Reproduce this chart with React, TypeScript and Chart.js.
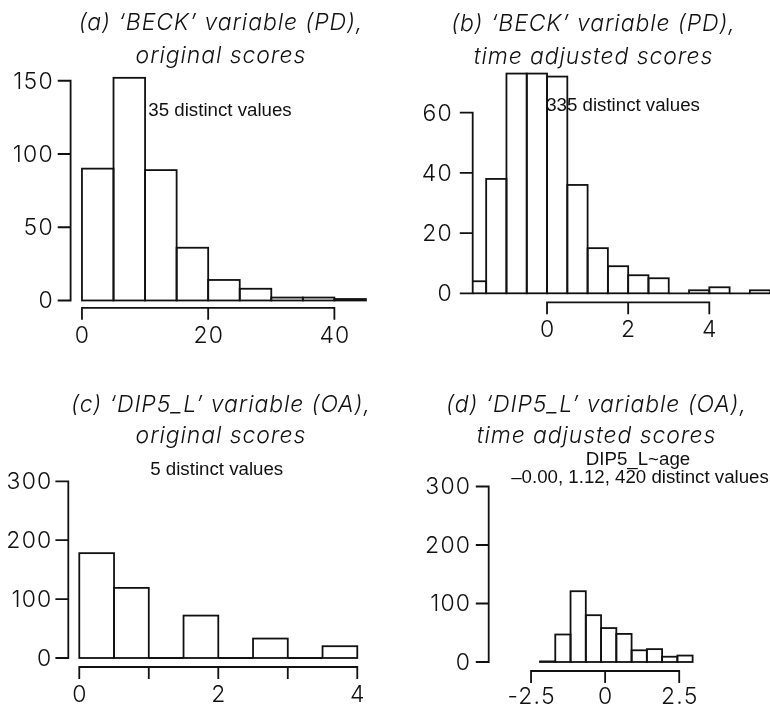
import React, { useEffect, useRef } from "react";
import { Chart, registerables } from "chart.js";

Chart.register(...registerables);

const W = 770;
const H = 708;

// ---------- (a) 'BECK' variable (PD), original scores ----------
const beckOrigBinCenters = [2.5, 7.5, 12.5, 17.5, 22.5, 27.5, 32.5, 37.5, 42.5];
const beckOrigCounts = [90, 152, 89, 36, 14, 8, 2, 2, 1];
const beckOrigXTicks = [0, 20, 40];
const beckOrigXLabels = ["0", "20", "40"];
const beckOrigYTicks = [0, 50, 100, 150];
const beckOrigYLabels = ["0", "50", "100", "150"];

// ---------- (b) 'BECK' variable (PD), time adjusted scores ----------
const beckAdjBinCenters = [-1.75, -1.25, -0.75, -0.25, 0.25, 0.75, 1.25, 1.75, 2.25, 2.75, 3.25, 3.75, 4.25, 4.75, 5.25];
const beckAdjCounts = [4, 38, 73, 73, 72, 36, 15, 9, 6, 5, 0, 1, 2, 0, 1];
const beckAdjXTicks = [0, 2, 4];
const beckAdjXLabels = ["0", "2", "4"];
const beckAdjYTicks = [0, 20, 40, 60];
const beckAdjYLabels = ["0", "20", "40", "60"];

// ---------- (c) 'DIP5_L' variable (OA), original scores ----------
const dipOrigBinCenters = [0.25, 0.75, 1.25, 1.75, 2.25, 2.75, 3.25, 3.75];
const dipOrigCounts = [178, 119, 0, 72, 0, 33, 0, 20];
const dipOrigXTicks = [0, 1, 2, 3, 4];
const dipOrigXLabels = ["0", "", "2", "", "4"];
const dipOrigYTicks = [0, 100, 200, 300];
const dipOrigYLabels = ["0", "100", "200", "300"];

// ---------- (d) 'DIP5_L' variable (OA), time adjusted scores ----------
const dipAdjBinCenters = [-1.94, -1.425, -0.91, -0.395, 0.12, 0.635, 1.15, 1.665, 2.18, 2.695];
const dipAdjCounts = [1, 47, 121, 80, 58, 48, 20, 22, 9, 11];
const dipAdjXTicks = [-2.5, 0, 2.5];
const dipAdjXLabels = ["-2.5", "0", "2.5"];
const dipAdjYTicks = [0, 100, 200, 300];
const dipAdjYLabels = ["0", "100", "200", "300"];

const TITLE_FONT = 'italic 300 23px Inter, Roboto, "Liberation Sans", sans-serif';
const TITLE_SPACING = 0.9;
const TICK_FONT = '300 23px Inter, Roboto, "Liberation Sans", sans-serif';
const TICK_SPACING = 1.2;
const NOTE_FONT = '18.7px "Liberation Sans", Arial, sans-serif';
const INK = "#111";
const LW = 1.8;
const TICK_LEN = 12;

type Panel = {
  centers: number[];
  counts: number[];
  xTicks: number[];
  xLabels: string[];
  yTicks: number[];
  yLabels: string[];
  area: { left: number; right: number; top: number; bottom: number };
  xMin: number;
  xMax: number;
  yMin: number;
  yMax: number;
  yLabelGap: number;
  xLabelOffset: number;
  title: string[];
  titleX: number;
  titleBaselines: number[];
  notes: { text: string; x: number; y: number }[];
};

const panels: Panel[] = [
  {
    centers: beckOrigBinCenters,
    counts: beckOrigCounts,
    xTicks: beckOrigXTicks,
    xLabels: beckOrigXLabels,
    yTicks: beckOrigYTicks,
    yLabels: beckOrigYLabels,
    area: { left: 70.6, right: 377.3, top: 66.1, bottom: 307.8 },
    xMin: -1.8,
    xMax: 46.8,
    yMin: -5,
    yMax: 160,
    yLabelGap: 18,
    xLabelOffset: 27,
    title: ["(a) \u2018BECK\u2019 variable (PD),", "original scores"],
    titleX: 220.5,
    titleBaselines: [30, 63],
    notes: [{ text: "35 distinct values", x: 220, y: 111 }],
  },
  {
    centers: beckAdjBinCenters,
    counts: beckAdjCounts,
    xTicks: beckAdjXTicks,
    xLabels: beckAdjXLabels,
    yTicks: beckAdjYTicks,
    yLabels: beckAdjYLabels,
    area: { left: 472.7, right: 770, top: 52.5, bottom: 302.3 },
    xMin: -1.832,
    xMax: 5.496,
    yMin: -2.99,
    yMax: 80,
    yLabelGap: 21,
    xLabelOffset: 27,
    title: ["(b) \u2018BECK\u2019 variable (PD),", "time adjusted scores"],
    titleX: 593,
    titleBaselines: [31, 64],
    notes: [{ text: "335 distinct values", x: 623, y: 105.5 }],
  },
  {
    centers: dipOrigBinCenters,
    counts: dipOrigCounts,
    xTicks: dipOrigXTicks,
    xLabels: dipOrigXLabels,
    yTicks: dipOrigYTicks,
    yLabels: dipOrigYLabels,
    area: { left: 68.3, right: 368.4, top: 469.5, bottom: 667 },
    xMin: -0.158,
    xMax: 4.16,
    yMin: -15.3,
    yMax: 320,
    yLabelGap: 17,
    xLabelOffset: 27,
    title: ["(c) \u2018DIP5_L\u2019 variable (OA),", "original scores"],
    titleX: 220.5,
    titleBaselines: [412, 443],
    notes: [{ text: "5 distinct values", x: 216.7, y: 470 }],
  },
  {
    centers: dipAdjBinCenters,
    counts: dipAdjCounts,
    xTicks: dipAdjXTicks,
    xLabels: dipAdjXLabels,
    yTicks: dipAdjYTicks,
    yLabels: dipAdjYLabels,
    area: { left: 488.7, right: 760, top: 474.8, bottom: 671 },
    xMin: -3.929,
    xMax: 5.226,
    yMin: -15.4,
    yMax: 320,
    yLabelGap: 18.7,
    xLabelOffset: 25,
    title: ["(d) \u2018DIP5_L\u2019 variable (OA),", "time adjusted scores"],
    titleX: 596,
    titleBaselines: [412, 443],
    notes: [
      { text: "DIP5_L~age", x: 638, y: 460 },
      { text: "\u20130.00, 1.12, 420 distinct values", x: 640, y: 478 },
    ],
  },
];

function makePlugin(p: Panel) {
  return {
    id: "rstyle",
    afterDatasetsDraw(chart: any) {
      const ctx: CanvasRenderingContext2D = chart.ctx;
      const a = chart.chartArea;
      const meta = chart.getDatasetMeta(0);
      ctx.save();
      ctx.beginPath();
      ctx.rect(a.left, a.top, a.right - a.left, a.bottom - a.top);
      ctx.clip();
      ctx.strokeStyle = INK;
      ctx.lineWidth = LW;
      ctx.lineJoin = "miter";
      for (const el of meta.data) {
        const { x, y, base, width } = el.getProps(["x", "y", "base", "width"], true);
        ctx.strokeRect(x - width / 2, y, width, base - y);
      }
      ctx.restore();
    },
    afterDraw(chart: any) {
      const ctx: any = chart.ctx;
      const a = chart.chartArea;
      const xs = chart.scales.x;
      const ys = chart.scales.y;
      ctx.save();
      ctx.strokeStyle = INK;
      ctx.fillStyle = INK;
      ctx.lineWidth = LW;
      ctx.lineCap = "square";
      // y axis
      const yTop = ys.getPixelForValue(p.yTicks[p.yTicks.length - 1]);
      const yBot = ys.getPixelForValue(p.yTicks[0]);
      ctx.beginPath();
      ctx.moveTo(a.left, yTop);
      ctx.lineTo(a.left, yBot);
      for (const t of p.yTicks) {
        const py = ys.getPixelForValue(t);
        ctx.moveTo(a.left, py);
        ctx.lineTo(a.left - TICK_LEN, py);
      }
      ctx.stroke();
      // x axis
      const xL = xs.getPixelForValue(p.xTicks[0]);
      const xR = xs.getPixelForValue(p.xTicks[p.xTicks.length - 1]);
      ctx.beginPath();
      ctx.moveTo(xL, a.bottom);
      ctx.lineTo(xR, a.bottom);
      for (const t of p.xTicks) {
        const px = xs.getPixelForValue(t);
        ctx.moveTo(px, a.bottom);
        ctx.lineTo(px, a.bottom + TICK_LEN - 1);
      }
      ctx.stroke();
      // tick labels
      ctx.font = TICK_FONT;
      ctx.letterSpacing = TICK_SPACING + "px";
      ctx.textBaseline = "middle";
      ctx.textAlign = "right";
      p.yTicks.forEach((t, i) => {
        ctx.fillText(p.yLabels[i], a.left - p.yLabelGap + TICK_SPACING, ys.getPixelForValue(t) + 1);
      });
      ctx.textAlign = "center";
      p.xTicks.forEach((t, i) => {
        if (p.xLabels[i])
          ctx.fillText(p.xLabels[i], xs.getPixelForValue(t) + TICK_SPACING / 2, a.bottom + p.xLabelOffset + 1);
      });
      // title
      ctx.font = TITLE_FONT;
      ctx.letterSpacing = TITLE_SPACING + "px";
      ctx.textBaseline = "alphabetic";
      ctx.textAlign = "center";
      p.title.forEach((line, i) => ctx.fillText(line, p.titleX + TITLE_SPACING / 2, p.titleBaselines[i]));
      // notes
      ctx.font = NOTE_FONT;
      ctx.letterSpacing = "0px";
      ctx.textBaseline = "middle";
      for (const n of p.notes) ctx.fillText(n.text, n.x, n.y);
      ctx.restore();
    },
  };
}

function HistPanel({ p }: { p: Panel }) {
  const ref = useRef<HTMLCanvasElement | null>(null);
  useEffect(() => {
    if (!ref.current) return;
    const chart = new Chart(ref.current, {
      type: "bar",
      data: {
        datasets: [
          {
            data: p.centers.map((c, i) => ({ x: c, y: p.counts[i] })),
            backgroundColor: "#ffffff",
            borderWidth: 0,
            barPercentage: 1,
            categoryPercentage: 1,
            grouped: false,
          } as any,
        ],
      },
      options: {
        responsive: false,
        animation: false,
        devicePixelRatio: 1,
        events: [],
        layout: {
          padding: {
            left: p.area.left,
            top: p.area.top,
            right: W - p.area.right,
            bottom: H - p.area.bottom,
          },
        },
        scales: {
          x: { type: "linear", min: p.xMin, max: p.xMax, display: false, offset: false },
          y: { type: "linear", min: p.yMin, max: p.yMax, display: false },
        },
        plugins: { legend: { display: false }, tooltip: { enabled: false }, title: { display: false } },
      } as any,
      plugins: [makePlugin(p)],
    });
    return () => chart.destroy();
  }, [p]);
  return (
    <canvas
      ref={ref}
      width={W}
      height={H}
      style={{ position: "absolute", left: 0, top: 0, width: W, height: H }}
    />
  );
}

export default function App() {
  return (
    <div style={{ position: "absolute", left: 0, top: 0, width: W, height: H, background: "#fff", overflow: "hidden" }}>
      {panels.map((p, i) => (
        <HistPanel key={i} p={p} />
      ))}
    </div>
  );
}
